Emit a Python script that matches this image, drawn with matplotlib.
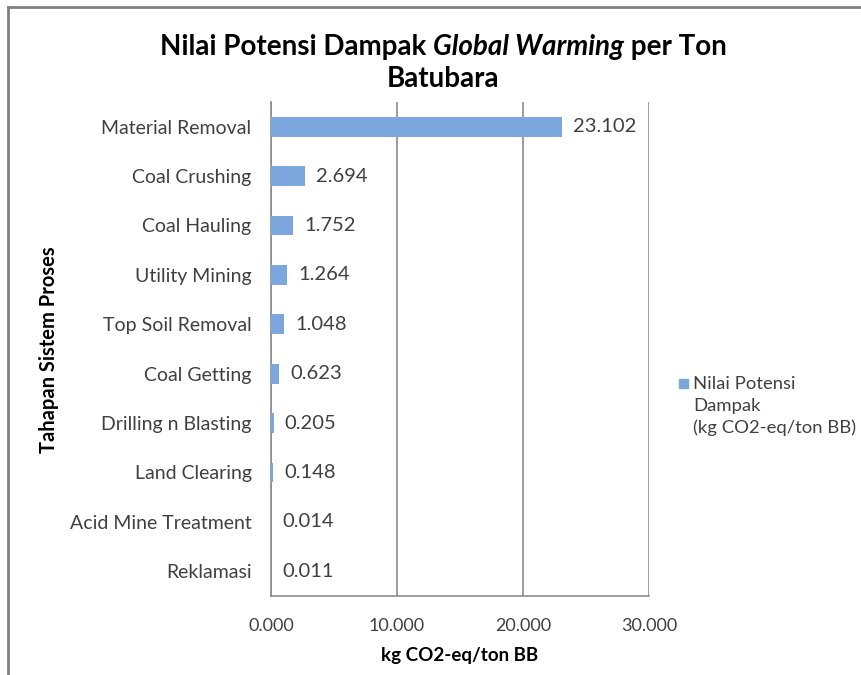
import matplotlib
matplotlib.use("Agg")
import matplotlib.pyplot as plt
from matplotlib.patches import Rectangle
from matplotlib.lines import Line2D

categories = ["Material Removal", "Coal Crushing", "Coal Hauling", "Utility Mining",
              "Top Soil Removal", "Coal Getting", "Drilling n Blasting", "Land Clearing",
              "Acid Mine Treatment", "Reklamasi"]
values = [23.102, 2.694, 1.752, 1.264, 1.048, 0.623, 0.205, 0.148, 0.014, 0.011]
x_ticks = [0, 10, 20, 30]
x_tick_labels = ["0.000", "10.000", "20.000", "30.000"]
series_name = "Nilai Potensi\nDampak\n(kg CO2-eq/ton BB)"

plt.rcParams['font.family'] = ['Lato', 'DejaVu Sans']
bar_color = '#7BA7DE'
grid_color = '#8c8c8c'
text_color = '#404040'

fig = plt.figure(figsize=(8.61, 6.75), dpi=100)
fig.patch.set_facecolor('white')

# outer chart frame (left and top visible)
fig.add_artist(Line2D([8/861, 8/861], [0, 1 - 7/675], transform=fig.transFigure, color='#808080', lw=2))
fig.add_artist(Line2D([8/861, 1], [1 - 7/675, 1 - 7/675], transform=fig.transFigure, color='#808080', lw=2))

ax = fig.add_axes([271/861, 1 - 596/675, (649 - 271)/861, (596 - 102)/675])
n = len(categories)
ypos = list(range(n))
ax.barh(ypos, values, height=0.4, color=bar_color, zorder=3)
ax.set_ylim(n - 0.5, -0.5)
ax.set_xlim(0, 30)
ax.set_yticks(ypos)
ax.set_yticklabels(categories, fontsize=14, color=text_color)
ax.set_xticks(x_ticks)
ax.set_xticklabels(x_tick_labels, fontsize=13, color=text_color)
ax.tick_params(axis='both', length=0)
ax.tick_params(axis='y', pad=14)
ax.tick_params(axis='x', pad=16)
ax.grid(axis='x', color=grid_color, lw=1.2, zorder=1)
for s in ['top', 'right']:
    ax.spines[s].set_visible(False)
for s in ['left', 'bottom']:
    ax.spines[s].set_color(grid_color)
    ax.spines[s].set_linewidth(1.2)

for y, v in zip(ypos, values):
    ax.annotate(f"{v:.3f}", xy=(v, y), xytext=(8, 0), textcoords='offset points',
                va='center', ha='left', fontsize=14.5, color=text_color)

ax.set_xlabel("kg CO2-eq/ton BB", fontsize=13.5, fontweight='bold', color='black', labelpad=9)

fig.text(49/861, 1 - 350/675, "Tahapan Sistem Proses", rotation=90, fontsize=14.5,
         fontweight='bold', ha='center', va='center', color='black')

# title with italic part
title_parts = [("Nilai Potensi Dampak ", 'normal'), ("Global Warming", 'italic'), (" per Ton", 'normal')]
fig.canvas.draw()
renderer = fig.canvas.get_renderer()
widths = []
temps = []
for txt, style in title_parts:
    tt = fig.text(0, 0, txt, fontsize=20, fontweight='bold', style=style)
    bb = tt.get_window_extent(renderer=renderer)
    widths.append(bb.width)
    temps.append(tt)
for tt in temps:
    tt.remove()
total = sum(widths)
xstart = 443 - total / 2
for (txt, style), w in zip(title_parts, widths):
    fig.text(xstart / 861, 1 - 47/675, txt, fontsize=20, fontweight='bold', style=style,
             ha='left', va='center', color='black')
    xstart += w
fig.text(443/861, 1 - 79/675, "Batubara", fontsize=20, fontweight='bold',
         ha='center', va='center', color='black')

# legend
fig.add_artist(Rectangle((679/861, 1 - 388/675), 9/861, 9/675, transform=fig.transFigure,
                         color=bar_color))
fig.text(693/861, 1 - 406/675, series_name, fontsize=13.3, color=text_color,
         ha='left', va='center', linespacing=1.42)

fig.savefig("out.png", dpi=100)
